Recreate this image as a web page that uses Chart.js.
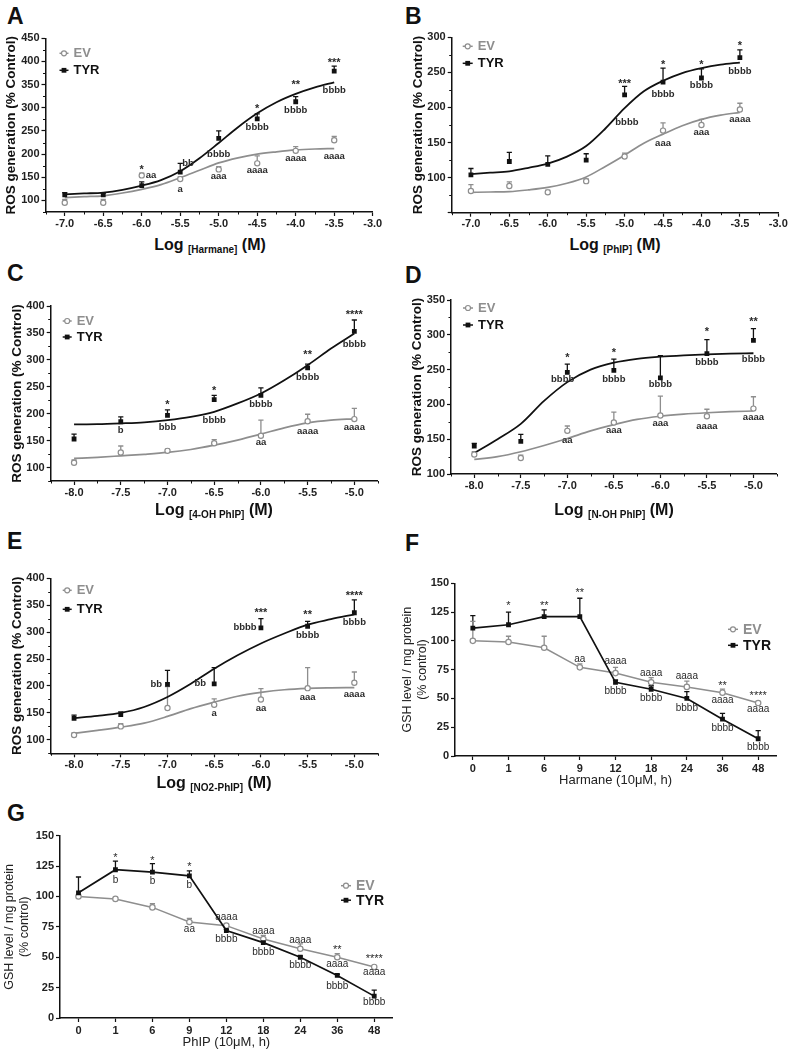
<!DOCTYPE html>
<html>
<head>
<meta charset="utf-8">
<script src="https://cdn.jsdelivr.net/npm/chart.js@4.4.1/dist/chart.umd.min.js"></script>
<style>
  body { margin: 0; background: #fff; }
  #page { position: relative; width: 789px; height: 1059px; overflow: hidden; font-family: "Liberation Sans", Arial, sans-serif; }
  canvas { position: absolute; }
  .letter { position: absolute; font-weight: bold; font-size: 23px; line-height: 23px; color: #111; }
  .xt { position: absolute; transform: translate(-50%, -50%); font-weight: bold; font-size: 16px; white-space: nowrap; color: #111; }
  .xt sub { font-size: 10px; vertical-align: -3px; }
</style>
</head>
<body>
<div id="page">
  <div class="letter" style="left:7px;top:5px">A</div>
  <div class="letter" style="left:405px;top:5px">B</div>
  <div class="letter" style="left:7px;top:262px">C</div>
  <div class="letter" style="left:405px;top:264px">D</div>
  <div class="letter" style="left:7px;top:530px">E</div>
  <div class="letter" style="left:405px;top:532px">F</div>
  <div class="letter" style="left:7px;top:802px">G</div>

  <canvas id="cA"></canvas>
  <canvas id="cB"></canvas>
  <canvas id="cC"></canvas>
  <canvas id="cD"></canvas>
  <canvas id="cE"></canvas>
  <canvas id="cF"></canvas>
  <canvas id="cG"></canvas>

  <div class="xt" style="left:210px;top:245px">Log <sub>[Harmane]</sub> (M)</div>
  <div class="xt" style="left:615px;top:245px">Log <sub>[PhIP]</sub> (M)</div>
  <div class="xt" style="left:214px;top:510px">Log <sub>[4-OH PhIP]</sub> (M)</div>
  <div class="xt" style="left:614px;top:510px">Log <sub>[N-OH PhIP]</sub> (M)</div>
  <div class="xt" style="left:214px;top:783px">Log <sub>[NO2-PhIP]</sub> (M)</div>
</div>

<script>
// ---------- data ----------
// A: Harmane
var doseA = [-7.0, -6.5, -6.0, -5.5, -5.0, -4.5, -4.0, -3.5];
var evA = [95, 95, 154, 146, 167, 180, 207, 230];
var evErrA = [7, 7, 5, 5, 6, 16, 9, 8];
var tyrA = [112, 112, 132, 161, 234, 276, 313, 379];
var tyrErrA = [5, 4, 8, 19, 16, 11, 11, 11];
var fitDoseAB = [-7.0, -6.75, -6.5, -6.25, -6.0, -5.75, -5.5, -5.25, -5.0, -4.75, -4.5, -4.25, -4.0, -3.75, -3.5];
var tyrFitA = [113, 115, 117, 123, 132, 144, 163, 191, 224, 258, 288, 312, 330, 344, 355];
var evFitA = [106, 108, 110, 116, 124, 134, 149, 165, 181, 192, 200, 205, 209, 211, 212];
var notesA = [['*', -6.0, 171], ['aa', -5.88, 154], ['bb', -5.4, 180], ['a', -5.5, 124],
  ['bbbb', -5.0, 199], ['aaa', -5.0, 151], ['*', -4.5, 301], ['bbbb', -4.5, 258], ['aaaa', -4.5, 165],
  ['**', -4.0, 353], ['bbbb', -4.0, 295], ['aaaa', -4.0, 191], ['***', -3.5, 400], ['bbbb', -3.5, 338], ['aaaa', -3.5, 196]];

// B: PhIP
var doseB = [-7.0, -6.5, -6.0, -5.5, -5.0, -4.5, -4.0, -3.5];
var evB = [81, 88, 79, 95, 130, 167, 175, 197];
var evErrB = [9, 6, 3, 3, 5, 11, 8, 9];
var tyrB = [104, 123, 119, 125, 218, 236, 242, 271];
var tyrErrB = [9, 13, 12, 9, 12, 20, 13, 11];
var tyrFitB = [105, 107, 109, 114, 120, 130, 145, 170, 199, 223, 238, 249, 256, 261, 264];
var evFitB = [79, 79.5, 80, 82.5, 86, 92, 101, 116, 132, 149, 162, 174, 183, 189, 193];
var notesB = [['***', -5.0, 236], ['bbbb', -4.97, 179], ['*', -4.5, 264], ['bbbb', -4.5, 219], ['aaa', -4.5, 149],
  ['*', -4.0, 264], ['bbbb', -4.0, 231], ['aaa', -4.0, 164], ['*', -3.5, 291], ['bbbb', -3.5, 252], ['aaaa', -3.5, 183]];

// C: 4-OH PhIP
var doseCDE = [-8.0, -7.5, -7.0, -6.5, -6.0, -5.5, -5.0];
var evC = [109, 128, 131, 145, 159, 186, 190];
var evErrC = [5, 12, 3, 7, 29, 13, 20];
var tyrC = [153, 185, 197, 226, 234, 285, 353];
var tyrErrC = [9, 9, 10, 8, 14, 7, 21];
var fitDoseCDE = [-8.0, -7.75, -7.5, -7.25, -7.0, -6.75, -6.5, -6.25, -6.0, -5.75, -5.5, -5.25, -5.0];
var tyrFitC = [180, 180.5, 182, 184, 188, 194, 203.5, 219, 237.5, 262, 290, 321, 349];
var evFitC = [117, 119, 121.7, 124.5, 128, 133.5, 141.5, 151, 162, 173.7, 183, 188, 190.5];
var notesC = [['b', -7.5, 169], ['*', -7.0, 219], ['bbb', -7.0, 174], ['*', -6.5, 245], ['bbbb', -6.5, 187],
  ['bbbb', -6.0, 217], ['aa', -6.0, 147], ['**', -5.5, 313], ['bbbb', -5.5, 268], ['aaaa', -5.5, 168],
  ['****', -5.0, 387], ['bbbb', -5.0, 329], ['aaaa', -5.0, 174]];

// D: N-OH PhIP
var evD = [128, 123, 162, 174, 184, 183, 194];
var evErrD = [4, 4, 7, 15, 28, 10, 17];
var tyrD = [140, 147, 246, 249, 238, 273, 292];
var tyrErrD = [4, 10, 12, 16, 32, 20, 17];
var tyrFitD = [130, 150, 172, 205, 232, 250, 260, 265.5, 268.5, 270.5, 272, 273, 273.5];
var evFitD = [121, 125, 132, 141, 151, 162, 171, 178.5, 183, 186, 188, 189.5, 190.5];
var notesD = [['*', -7.0, 269], ['bbbb', -7.05, 236], ['*', -6.5, 277], ['bbbb', -6.5, 236], ['bbbb', -6.0, 229],
  ['*', -5.5, 307], ['bbbb', -5.5, 261], ['**', -5.0, 322], ['bbbb', -5.0, 264],
  ['aa', -7.0, 149], ['aaa', -6.5, 163], ['aaa', -6.0, 173], ['aaaa', -5.5, 169], ['aaaa', -5.0, 181]];

// E: NO2-PhIP
var evE = [109, 125, 159, 165, 175, 196, 206];
var evErrE = [4, 5, 40, 11, 20, 38, 20];
var tyrE = [140, 147, 203, 204, 308, 311, 336];
var tyrErrE = [6, 5, 26, 30, 17, 9, 24];
var tyrFitE = [140.5, 144.5, 150, 161, 179.5, 204, 232, 257, 279, 297.5, 314, 324, 333];
var evFitE = [112, 117.5, 123.5, 131, 143.5, 158, 170, 181, 188, 193, 195.5, 196.5, 197];
var notesE = [['bb', -7.12, 203], ['bb', -6.65, 204], ['a', -6.5, 150], ['***', -6.0, 339], ['bbbb', -6.17, 308],
  ['aa', -6.0, 159], ['**', -5.5, 335], ['bbbb', -5.5, 294], ['aaa', -5.5, 178],
  ['****', -5.0, 370], ['bbbb', -5.0, 319], ['aaaa', -5.0, 184]];

// F / G: GSH time course
var hours = ['0', '1', '6', '9', '12', '18', '24', '36', '48'];
var tyrF = [111, 114, 121, 121, 64, 58, 50, 32, 15];
var tyrErrF = [11, 11, 6, 16, 2, 3, 6, 5, 7];
var evF = [100, 99, 94, 77, 72, 64, 60, 55, 46];
var evErrF = [17, 5, 10, 3, 5, 4, 5, 3, 1];
var notesF = [['*', 1, 132], ['**', 2, 132], ['**', 3, 143], ['aa', 3, 84], ['aaaa', 4, 82], ['bbbb', 4, 56.5],
  ['aaaa', 5, 72], ['bbbb', 5, 50], ['aaaa', 6, 69], ['bbbb', 6, 41.5], ['**', 7, 62.5], ['aaaa', 7, 48.7],
  ['bbbb', 7, 24], ['****', 8, 53.6], ['aaaa', 8, 41], ['bbbb', 8, 8]];

var tyrG = [103, 122, 120, 117, 72, 62, 50, 35, 18];
var tyrErrG = [13, 7, 7, 4, 1, 1, 1, 1, 5];
var evG = [100, 98, 91, 79, 76, 65, 57, 50, 42];
var evErrG = [1, 1, 3, 3, 1, 3, 4, 3, 1];
var notesG = [['*', 1, 133.5], ['b', 1, 113.5], ['*', 2, 131], ['b', 2, 112.7], ['*', 3, 126], ['b', 3, 109.4],
  ['aa', 3, 73], ['aaaa', 4, 82.5], ['bbbb', 4, 64.7], ['aaaa', 5, 71.5], ['bbbb', 5, 54.5],
  ['aaaa', 6, 64], ['bbbb', 6, 43], ['**', 7, 57.3], ['aaaa', 7, 44.4], ['bbbb', 7, 26.3],
  ['****', 8, 50], ['aaaa', 8, 37.3], ['bbbb', 8, 12.6]];

// tick positions
var xTicksAB = [-7.25, -7, -6.75, -6.5, -6.25, -6, -5.75, -5.5, -5.25, -5, -4.75, -4.5, -4.25, -4, -3.75, -3.5, -3.25, -3];
var xTicksCDE = [-8.25, -8, -7.75, -7.5, -7.25, -7, -6.75, -6.5, -6.25, -6, -5.75, -5.5, -5.25, -5, -4.75];
var yTicksGSH = [0, 25, 50, 75, 100, 125, 150];

// ---------- helpers ----------
var BLACK = '#111';
var GREY = '#8e8e8e';
var FONT = '"Liberation Sans", Arial, sans-serif';
Chart.defaults.font.family = FONT;
Chart.defaults.color = '#222';

function steps(a, b, s) {
  var out = [];
  for (var v = a; v <= b + 1e-9; v += s) out.push(v);
  return out;
}

function pts(xs, ys) {
  return xs.map(function(x, i) { return { x: x, y: ys[i] }; });
}

function isMult(v, m) {
  return Math.abs(v / m - Math.round(v / m)) < 1e-6;
}

// error bars (upper half only, as in the figure)
var errorBars = {
  id: 'errorBars',
  beforeDatasetsDraw: function(chart) {
    var ctx = chart.ctx, xs = chart.scales.x, ys = chart.scales.y;
    chart.data.datasets.forEach(function(ds) {
      if (!ds.errors) return;
      ctx.save();
      ctx.strokeStyle = ds.borderColor;
      ctx.lineWidth = 1.3;
      ds.data.forEach(function(p, j) {
        var v = (typeof p === 'object') ? p.y : p;
        var x = xs.getPixelForValue(typeof p === 'object' ? p.x : j);
        var y0 = ys.getPixelForValue(v);
        var y1 = ys.getPixelForValue(v + ds.errors[j]);
        ctx.beginPath();
        ctx.moveTo(x, y0); ctx.lineTo(x, y1);
        ctx.moveTo(x - 2.6, y1); ctx.lineTo(x + 2.6, y1);
        ctx.stroke();
      });
      ctx.restore();
    });
  }
};

// short minor tick marks (the library draws only the major ones here)
function minorTicks(xMinor, yMinor) {
  return {
    id: 'minorTicks',
    afterDraw: function(chart) {
      var ctx = chart.ctx, a = chart.chartArea, xs = chart.scales.x, ys = chart.scales.y;
      ctx.save();
      ctx.strokeStyle = BLACK;
      ctx.lineWidth = 1;
      ctx.beginPath();
      xMinor.forEach(function(v) {
        var x = Math.round(xs.getPixelForValue(v)) + 0.5;
        ctx.moveTo(x, a.bottom); ctx.lineTo(x, a.bottom + 2.5);
      });
      yMinor.forEach(function(v) {
        var y = Math.round(ys.getPixelForValue(v)) + 0.5;
        ctx.moveTo(a.left, y); ctx.lineTo(a.left - 2.5, y);
      });
      ctx.stroke();
      ctx.restore();
    }
  };
}

// significance letters / stars
function notes(items, font, starFont) {
  return {
    id: 'notes',
    afterDatasetsDraw: function(chart) {
      var ctx = chart.ctx, xs = chart.scales.x, ys = chart.scales.y;
      ctx.save();
      ctx.fillStyle = '#2a2a2a';
      ctx.textAlign = 'center';
      ctx.textBaseline = 'middle';
      items.forEach(function(n) {
        var star = n[0].charAt(0) === '*';
        ctx.font = star ? starFont : font;
        ctx.fillText(n[0], xs.getPixelForValue(n[1]), ys.getPixelForValue(n[2]) + (star ? 2 : 0));
      });
      ctx.restore();
    }
  };
}

// legend with line + marker, like the original
function miniLegend(c) {
  return {
    id: 'miniLegend',
    afterDraw: function(chart) {
      var ctx = chart.ctx, a = chart.chartArea;
      [['EV', GREY, c.y1], ['TYR', BLACK, c.y2]].forEach(function(r) {
        var x0 = a.left + c.x, y = a.top + r[2], xm = x0 + c.len / 2;
        ctx.save();
        ctx.strokeStyle = r[1];
        ctx.lineWidth = 1.5;
        ctx.beginPath(); ctx.moveTo(x0, y); ctx.lineTo(x0 + c.len, y); ctx.stroke();
        if (r[0] === 'EV') {
          ctx.fillStyle = '#fff'; ctx.lineWidth = 1.2;
          ctx.beginPath(); ctx.arc(xm, y, 2.5, 0, Math.PI * 2); ctx.fill(); ctx.stroke();
        } else {
          ctx.fillStyle = BLACK;
          ctx.fillRect(xm - 2.4, y - 2.4, 4.8, 4.8);
        }
        ctx.fillStyle = r[1];
        ctx.font = 'bold ' + c.size + 'px ' + FONT;
        ctx.textBaseline = 'middle';
        ctx.fillText(r[0], x0 + c.len + 5, y + 0.5);
        ctx.restore();
      });
    }
  };
}

// put the canvas so the plot area lands on [L,R]x[T,B]
function place(el, lay) {
  el.width = lay.w; el.height = lay.h;
  el.style.left = lay.left + 'px';
  el.style.top = lay.top + 'px';
  return {
    yW: lay.L - lay.left,
    xH: lay.top + lay.h - lay.B,
    pad: { top: lay.T - lay.top, right: lay.left + lay.w - lay.R, left: 0, bottom: 0 }
  };
}

function axisGrid(isMajor) {
  return {
    display: true, drawOnChartArea: false, drawTicks: true, tickLength: 4, tickWidth: 1.2,
    tickColor: function(c) { return (!isMajor || isMajor(c.tick.value)) ? BLACK : 'rgba(0,0,0,0)'; }
  };
}

function rosChart(id, lay, d) {
  var el = document.getElementById(id);
  var g = place(el, lay);
  var yTicks = steps(d.yMin, d.yMax, 25);
  var xMajor = function(v) { return isMult(v, 0.5); };
  var yMajor = function(v) { return isMult(v, 50); };
  new Chart(el, {
    type: 'line',
    data: {
      datasets: [
        { data: pts(d.dose, d.tyr), errors: d.tyrErr, showLine: false, pointStyle: 'rect', pointRadius: 3.4,
          backgroundColor: BLACK, borderColor: BLACK, pointBorderWidth: 0 },
        { data: pts(d.dose, d.ev), errors: d.evErr, showLine: false, pointStyle: 'circle', pointRadius: 2.6,
          backgroundColor: '#fff', borderColor: GREY, pointBorderWidth: 1.2 },
        { data: pts(d.fitDose, d.tyrFit), pointRadius: 0, borderColor: BLACK, borderWidth: 1.8,
          cubicInterpolationMode: 'monotone' },
        { data: pts(d.fitDose, d.evFit), pointRadius: 0, borderColor: GREY, borderWidth: 1.7,
          cubicInterpolationMode: 'monotone' }
      ]
    },
    options: {
      responsive: false,
      animation: false,
      layout: { padding: g.pad },
      plugins: { legend: { display: false }, tooltip: { enabled: false } },
      scales: {
        x: {
          type: 'linear', min: d.xTicks[0], max: d.xTicks[d.xTicks.length - 1],
          afterBuildTicks: function(s) { s.ticks = d.xTicks.map(function(v) { return { value: v }; }); },
          afterFit: function(s) { s.height = g.xH; },
          grid: axisGrid(xMajor),
          border: { display: true, color: BLACK, width: 1.5 },
          ticks: {
            autoSkip: false, maxRotation: 0, padding: 1, font: { size: 11, weight: 'bold' },
            callback: function(v) {
              return (xMajor(v) && v >= d.xLab[0] && v <= d.xLab[1]) ? v.toFixed(1) : '';
            }
          }
        },
        y: {
          type: 'linear', min: d.yMin, max: d.yMax,
          afterBuildTicks: function(s) { s.ticks = yTicks.map(function(v) { return { value: v }; }); },
          afterFit: function(s) { s.width = g.yW; },
          grid: axisGrid(yMajor),
          border: { display: true, color: BLACK, width: 1.5 },
          ticks: {
            autoSkip: false, padding: 2, font: { size: 11, weight: 'bold' },
            callback: function(v) { return (yMajor(v) && v >= 100) ? v : ''; }
          },
          title: {
            display: true, text: 'ROS generation (% Control)', color: BLACK,
            font: { size: 13.5, weight: 'bold' }, padding: { top: lay.titlePad, bottom: 0 }
          }
        }
      }
    },
    plugins: [errorBars,
      minorTicks(d.xTicks.filter(function(v) { return !xMajor(v); }), yTicks.filter(function(v) { return !yMajor(v); })),
      notes(d.notes, 'bold 9.5px ' + FONT, 'bold 11px ' + FONT), miniLegend(lay.legend)]
  });
}

function gshChart(id, lay, d) {
  var el = document.getElementById(id);
  var g = place(el, lay);
  new Chart(el, {
    type: 'line',
    data: {
      labels: hours,
      datasets: [
        { data: d.tyr, errors: d.tyrErr, pointStyle: 'rect', pointRadius: 3.4, backgroundColor: BLACK,
          borderColor: BLACK, pointBorderWidth: 0, borderWidth: 1.7, tension: 0 },
        { data: d.ev, errors: d.evErr, pointStyle: 'circle', pointRadius: 2.7, backgroundColor: '#fff',
          borderColor: GREY, pointBorderWidth: 1.2, borderWidth: 1.5, tension: 0 }
      ]
    },
    options: {
      responsive: false,
      animation: false,
      layout: { padding: g.pad },
      plugins: { legend: { display: false }, tooltip: { enabled: false } },
      scales: {
        x: {
          type: 'category', offset: true,
          afterFit: function(s) { s.height = g.xH; },
          grid: Object.assign(axisGrid(null), { offset: false }),
          border: { display: true, color: BLACK, width: 1.5 },
          ticks: { autoSkip: false, maxRotation: 0, padding: 2, font: { size: 11, weight: 'bold' } },
          title: {
            display: true, text: d.xTitle, color: '#222', font: { size: 13 },
            padding: { top: 0, bottom: lay.xTitlePad }
          }
        },
        y: {
          type: 'linear', min: 0, max: 150,
          afterBuildTicks: function(s) { s.ticks = yTicksGSH.map(function(v) { return { value: v }; }); },
          afterFit: function(s) { s.width = g.yW; },
          grid: axisGrid(null),
          border: { display: true, color: BLACK, width: 1.5 },
          ticks: { autoSkip: false, padding: 2, font: { size: 11, weight: 'bold' } },
          title: {
            display: true, text: ['GSH level / mg protein', '(% control)'], color: '#222',
            font: { size: 12.5, lineHeight: 1.2 }, padding: { top: lay.titlePad, bottom: 0 }
          }
        }
      }
    },
    plugins: [errorBars, notes(d.notes, '10px ' + FONT, '11px ' + FONT), miniLegend(lay.legend)]
  });
}

// ---------- build the seven panels ----------
rosChart('cA',
  { left: 0, top: 18, w: 395, h: 217, L: 45.5, T: 38.3, R: 372.7, B: 212, titlePad: 3.5,
    legend: { x: 14, y1: 15, y2: 32, len: 9, size: 13 } },
  { dose: doseA, ev: evA, evErr: evErrA, tyr: tyrA, tyrErr: tyrErrA, fitDose: fitDoseAB,
    tyrFit: tyrFitA, evFit: evFitA, notes: notesA, xTicks: xTicksAB, xLab: [-7, -3], yMin: 75, yMax: 450 });

rosChart('cB',
  { left: 398, top: 18, w: 391, h: 217, L: 451.7, T: 37.3, R: 778.3, B: 212.7, titlePad: 12,
    legend: { x: 11, y1: 9, y2: 26, len: 10, size: 13 } },
  { dose: doseB, ev: evB, evErr: evErrB, tyr: tyrB, tyrErr: tyrErrB, fitDose: fitDoseAB,
    tyrFit: tyrFitB, evFit: evFitB, notes: notesB, xTicks: xTicksAB, xLab: [-7, -3], yMin: 50, yMax: 300 });

rosChart('cC',
  { left: 0, top: 288, w: 395, h: 215, L: 50.7, T: 306, R: 377.7, B: 481, titlePad: 9,
    legend: { x: 12, y1: 15, y2: 31, len: 9, size: 13 } },
  { dose: doseCDE, ev: evC, evErr: evErrC, tyr: tyrC, tyrErr: tyrErrC, fitDose: fitDoseCDE,
    tyrFit: tyrFitC, evFit: evFitC, notes: notesC, xTicks: xTicksCDE, xLab: [-8, -5], yMin: 75, yMax: 400 });

rosChart('cD',
  { left: 398, top: 283, w: 391, h: 215, L: 451, T: 300, R: 776.7, B: 474, titlePad: 11.5,
    legend: { x: 12, y1: 8, y2: 25, len: 10, size: 13 } },
  { dose: doseCDE, ev: evD, evErr: evErrD, tyr: tyrD, tyrErr: tyrErrD, fitDose: fitDoseCDE,
    tyrFit: tyrFitD, evFit: evFitD, notes: notesD, xTicks: xTicksCDE, xLab: [-8, -5], yMin: 100, yMax: 350 });

rosChart('cE',
  { left: 0, top: 560, w: 395, h: 217, L: 50.7, T: 578.3, R: 377.7, B: 753.3, titlePad: 9,
    legend: { x: 12, y1: 12, y2: 31, len: 9, size: 13 } },
  { dose: doseCDE, ev: evE, evErr: evErrE, tyr: tyrE, tyrErr: tyrErrE, fitDose: fitDoseCDE,
    tyrFit: tyrFitE, evFit: evFitE, notes: notesE, xTicks: xTicksCDE, xLab: [-8, -5], yMin: 75, yMax: 400 });

gshChart('cF',
  { left: 398, top: 565, w: 391, h: 230, L: 455, T: 583.3, R: 776, B: 756, titlePad: 2.5, xTitlePad: 7,
    legend: { x: 273, y1: 46, y2: 62, len: 10, size: 14 } },
  { tyr: tyrF, tyrErr: tyrErrF, ev: evF, evErr: evErrF, notes: notesF, xTitle: 'Harmane (10\u03bcM, h)' });

gshChart('cG',
  { left: 0, top: 818, w: 440, h: 241, L: 60, T: 835.7, R: 392.7, B: 1018, titlePad: 2.5, xTitlePad: 9,
    legend: { x: 281, y1: 50, y2: 64.5, len: 10, size: 14 } },
  { tyr: tyrG, tyrErr: tyrErrG, ev: evG, evErr: evErrG, notes: notesG, xTitle: 'PhIP (10\u03bcM, h)' });
</script>
</body>
</html>
